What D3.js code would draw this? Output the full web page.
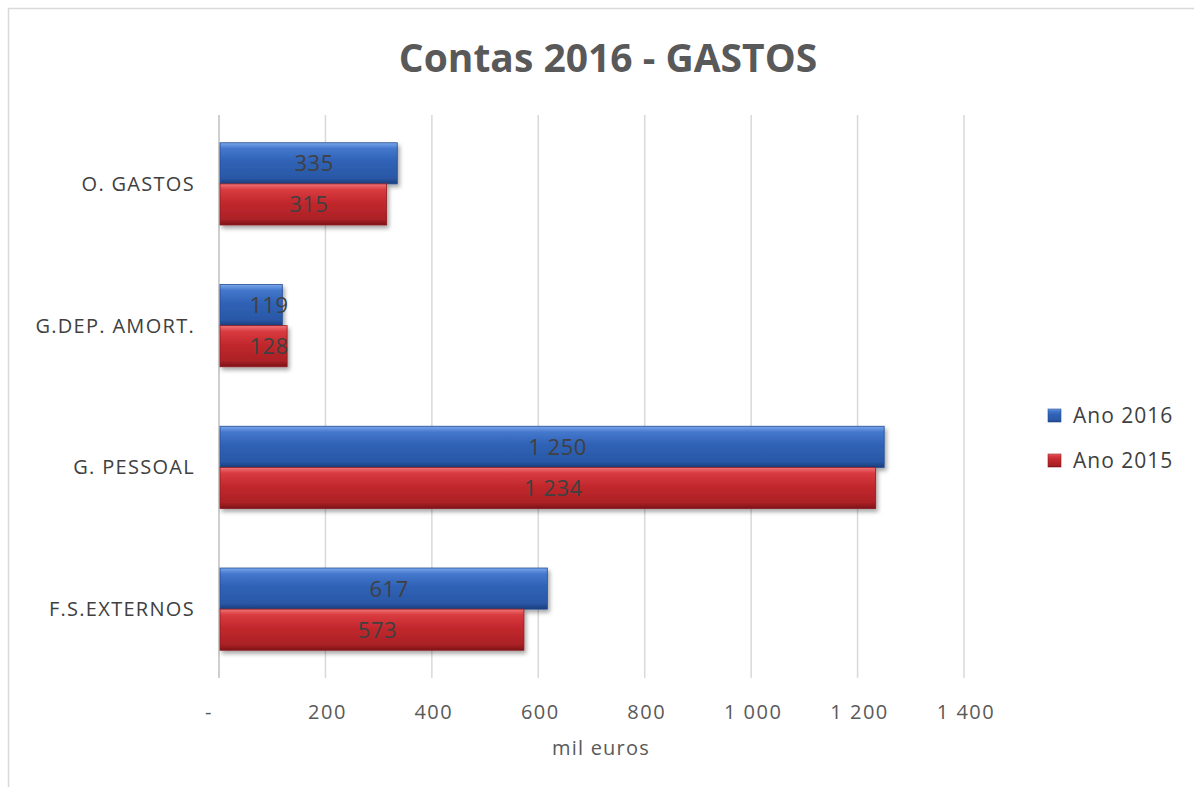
<!DOCTYPE html>
<html>
<head>
<meta charset="utf-8">
<script src="https://cdn.jsdelivr.net/npm/d3@7"></script>
<style>
  body { margin: 0; background: #fff; }
  svg { display: block; font-family: "Open Sans", "Liberation Sans", sans-serif; }
</style>
</head>
<body>
<svg width="1194" height="787"></svg>
<script>
// categories top -> bottom
const categories = ['O. GASTOS', 'G.DEP. AMORT.', 'G. PESSOAL', 'F.S.EXTERNOS'];
const series = ['Ano 2016', 'Ano 2015'];
const values2016 = [335, 119, 1250, 617];
const values2015 = [315, 128, 1234, 573];
const xTicks = [0, 200, 400, 600, 800, 1000, 1200, 1400];

const svg = d3.select('svg');
const fmt = v => v === 0 ? '-' : d3.format(',')(v).replace(/,/g, ' ');

const defs = svg.append('defs');
const grads = {
  'Ano 2016': ['#7aa7ec', '#4478cc', '#2f62b6', '#2a58a6', '#1a3d7c'],
  'Ano 2015': ['#f07478', '#d93b40', '#c2282d', '#ab2126', '#7c1417']
};
Object.keys(grads).forEach((k, i) => {
  const g = defs.append('linearGradient')
    .attr('id', 'g' + i).attr('x1', 0).attr('x2', 0).attr('y1', 0).attr('y2', 1);
  [0, 0.14, 0.45, 0.86, 1].forEach((o, j) => {
    g.append('stop').attr('offset', o).attr('stop-color', grads[k][j]);
  });
});
defs.append('filter').attr('id', 'shadow')
  .attr('x', '-5%').attr('y', '-20%').attr('width', '115%').attr('height', '150%')
  .append('feDropShadow')
  .attr('dx', 2).attr('dy', 3).attr('stdDeviation', 2)
  .attr('flood-color', '#000').attr('flood-opacity', 0.35);

// chart frame
svg.append('path')
  .attr('d', 'M8.5,787 L8.5,8.5 L1194,8.5')
  .attr('fill', 'none').attr('stroke', '#d9d9d9').attr('stroke-width', 1.5);

// title
svg.append('text')
  .attr('x', 608).attr('y', 72)
  .attr('text-anchor', 'middle')
  .attr('font-size', 39).attr('font-weight', 'bold')
  .attr('fill', '#595959')
  .text('Contas 2016 - GASTOS');

const x = d3.scaleLinear().domain([0, 1400]).range([219, 964]);
const y = d3.scaleBand().domain(categories).range([113, 680])
  .paddingInner(0.42).paddingOuter(0.21);
const ySub = d3.scaleBand().domain(series).range([0, y.bandwidth()]);

// gridlines
svg.append('g').selectAll('line')
  .data(xTicks.slice(1))
  .enter().append('line')
  .attr('x1', d => x(d)).attr('x2', d => x(d))
  .attr('y1', 115).attr('y2', 678)
  .attr('stroke', '#d9d9d9').attr('stroke-width', 1.5);

svg.append('line')
  .attr('x1', x(0)).attr('x2', x(0)).attr('y1', 115).attr('y2', 678)
  .attr('stroke', '#bfbfbf').attr('stroke-width', 1.5);

// x tick labels
svg.append('g').selectAll('text')
  .data(xTicks)
  .enter().append('text')
  .attr('x', d => d === 0 ? x(d) - 10 : x(d) + 2)
  .attr('y', 719)
  .attr('text-anchor', 'middle')
  .attr('font-size', 20).attr('letter-spacing', 1.5).attr('fill', '#595959')
  .text(fmt);

svg.append('text')
  .attr('x', 601).attr('y', 755)
  .attr('text-anchor', 'middle')
  .attr('font-size', 20).attr('letter-spacing', 1.2).attr('fill', '#595959')
  .text('mil euros');

// category labels
svg.append('g').selectAll('text')
  .data(categories)
  .enter().append('text')
  .attr('x', 195)
  .attr('y', d => y(d) + y.bandwidth() / 2 + 7)
  .attr('text-anchor', 'end')
  .attr('font-size', 20).attr('letter-spacing', 1.3).attr('fill', '#404040')
  .text(d => d);

// bars
const rows = [];
categories.forEach((c, i) => {
  rows.push({ cat: c, s: 'Ano 2016', v: values2016[i], gi: 0 });
  rows.push({ cat: c, s: 'Ano 2015', v: values2015[i], gi: 1 });
});

svg.append('g').selectAll('rect')
  .data(rows)
  .enter().append('rect')
  .attr('x', x(0) + 1)
  .attr('y', d => y(d.cat) + ySub(d.s))
  .attr('width', d => x(d.v) - x(0) - 1)
  .attr('height', ySub.bandwidth())
  .attr('fill', d => 'url(#g' + d.gi + ')')
  .attr('stroke', d => d.gi === 0 ? '#234c92' : '#8e1b1f')
  .attr('stroke-width', 0.8)
  .attr('filter', 'url(#shadow)');

svg.append('g').selectAll('text')
  .data(rows)
  .enter().append('text')
  .attr('x', d => Math.max((x(0) + x(d.v)) / 2 + 6, x(0) + 50))
  .attr('y', d => y(d.cat) + ySub(d.s) + ySub.bandwidth() / 2 + 8)
  .attr('text-anchor', 'middle')
  .attr('font-size', 22).attr('letter-spacing', 0.5).attr('fill', '#404040')
  .text(d => fmt(d.v));

// legend
const leg = svg.append('g').selectAll('g')
  .data(series)
  .enter().append('g')
  .attr('transform', (d, i) => 'translate(1048,' + (409 + i * 45) + ')');
leg.append('rect')
  .attr('width', 13).attr('height', 13)
  .attr('fill', (d, i) => 'url(#g' + i + ')')
  .attr('stroke', (d, i) => i === 0 ? '#234c92' : '#8e1b1f')
  .attr('stroke-width', 0.6);
leg.append('text')
  .attr('x', 25).attr('y', 14)
  .attr('font-size', 21).attr('letter-spacing', 1).attr('fill', '#404040')
  .text(d => d);
</script>
</body>
</html>
